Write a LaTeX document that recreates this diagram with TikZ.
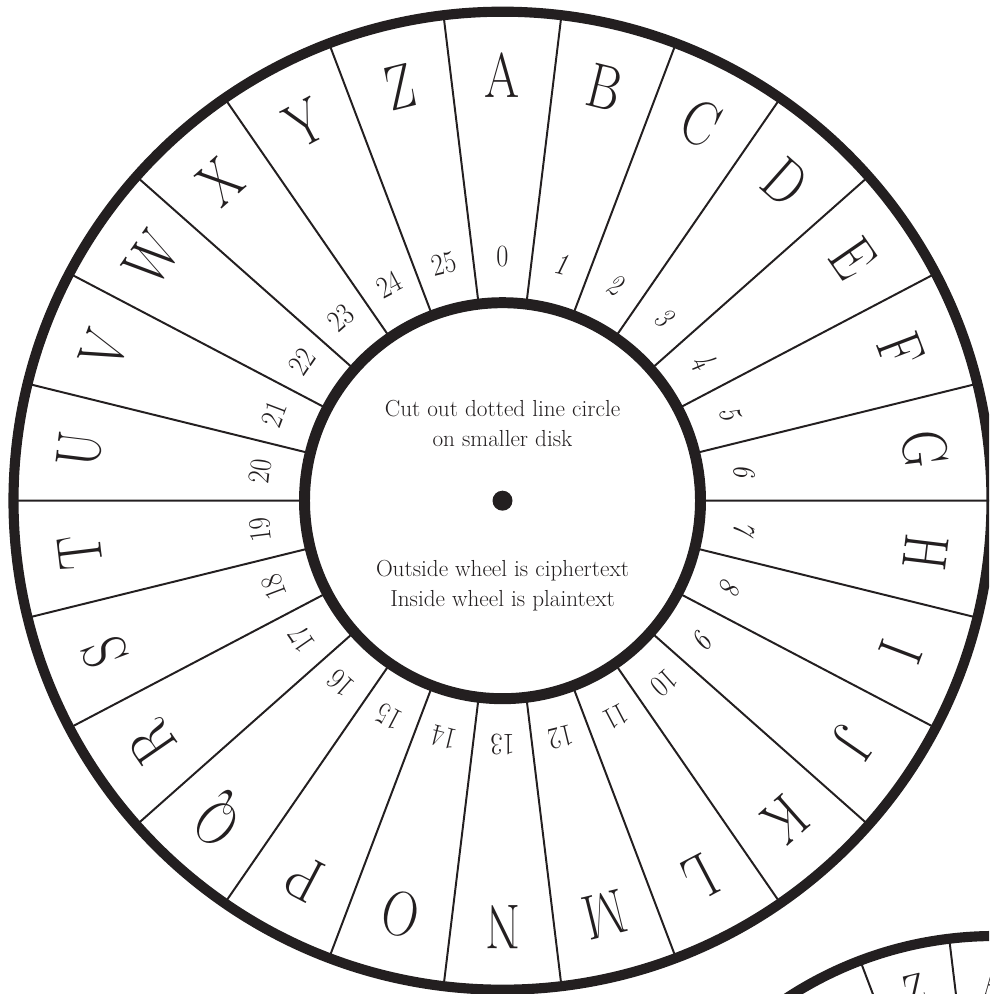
\documentclass[tikz,border=0pt]{standalone}
\usepackage{fontspec}
\usepackage{graphicx}
\usepackage{xcolor}
\usepackage{tikz}
\definecolor{ink}{RGB}{35,31,32}
\newcommand{\wheelnum}[1]{\scalebox{0.85}[1]{\ifnum#1>0 \ifnum#1<10 \textit{#1}\else #1\fi\else #1\fi}}
\tikzset{
  band/.style     = {draw=ink, line width=7.2pt},
  hubband/.style  = {draw=ink, line width=7.8pt},
  divider/.style  = {draw=ink, line width=1.4pt},
  letterlab/.style= {text=ink, inner sep=0pt, font=\fontsize{45}{45}\selectfont},
  numlab/.style   = {text=ink, inner sep=0pt, font=\fontsize{22}{22}\selectfont},
  note/.style     = {text=ink, align=center, font=\fontsize{16.5}{21.5}\selectfont}
}

\begin{document}
\begin{tikzpicture}[x=0.025cm, y=0.025cm]
  \useasboundingbox (0,0) rectangle (989,994);
  \clip (0,0) rectangle (989,994);

  % outer (cipher) wheel
  \begin{scope}[shift={(502.5,493.3)}]
    \foreach \k in {0,...,25}
      \draw[divider] ({90-13.846*(\k+0.5)}:198) -- ({90-13.846*(\k+0.5)}:489);
    \draw[band] (0,0) circle[radius=489];
    \draw[hubband] (0,0) circle[radius=198];
    \fill[ink] (0,0) circle[radius=10];
    \foreach \l [count=\k from 0] in {A,...,Z}
      \node[letterlab, rotate={-13.846*\k}] (let-\l) at ({90-13.846*\k}:426) {\scalebox{0.8}[1]{\l}};
    \foreach \k in {0,...,25}
      \node[numlab, rotate={-13.846*\k}] (num-\k) at ({90-13.846*\k}:244) {\wheelnum{\k}};
    \node[note] (cut) at (0,77)  {Cut out dotted line circle\\on smaller disk};
    \node[note] (key) at (0,-85) {Outside wheel is ciphertext\\Inside wheel is plaintext};
  \end{scope}

  % second disk, only its top edge shows
  \begin{scope}[shift={(995,-322)}]
    \foreach \k in {-2,...,1}
      \draw[divider] ({90-13.846*(\k+0.5)}:250) -- ({90-13.846*(\k+0.5)}:380);
    \draw[band] (0,0) circle[radius=380];
    \node[letterlab, font=\fontsize{34}{34}\selectfont, rotate=13.846] (inlet-Z) at ({90+13.846}:335) {\scalebox{0.8}[1]{Z}};
    \node[letterlab, font=\fontsize{34}{34}\selectfont] (inlet-A) at (90:335) {\scalebox{0.8}[1]{A}};
  \end{scope}
\end{tikzpicture}
\end{document}
